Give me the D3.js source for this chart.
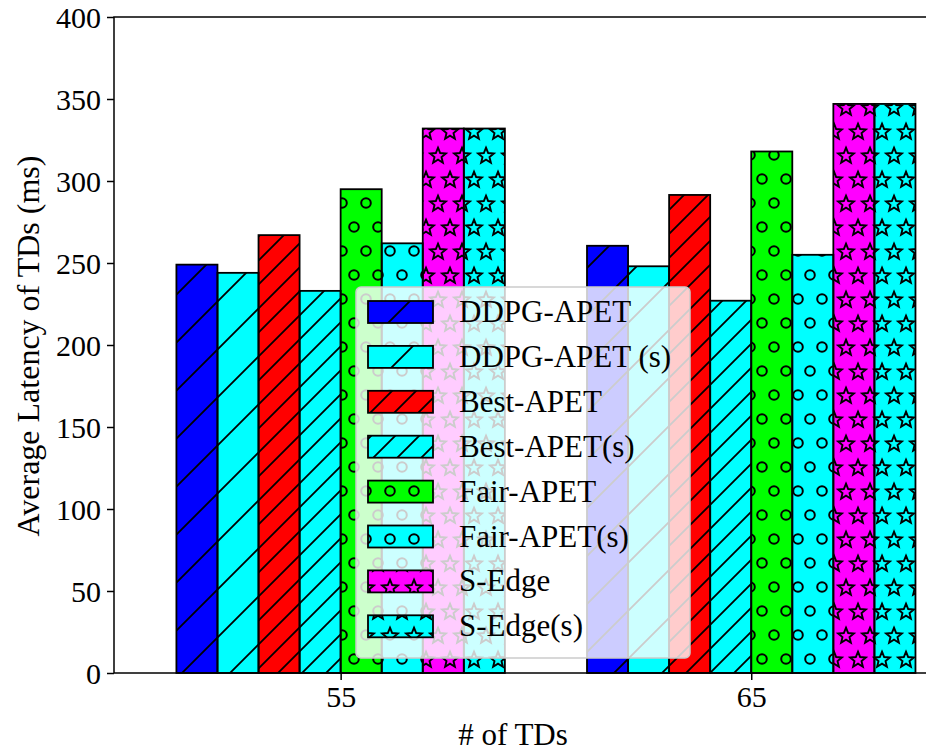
<!DOCTYPE html>
<html>
<head>
<meta charset="utf-8">
<script src="https://cdn.jsdelivr.net/npm/d3@7"></script>
<style>
  body { margin: 0; background: white; }
  svg { display: block; font-family: "Liberation Serif", "Times New Roman", serif; }
</style>
</head>
<body>
<div id="chart"></div>
<script>
//data for the chart
var categories = ["55", "65"];
var seriesNames = ["DDPG-APET", "DDPG-APET (s)", "Best-APET", "Best-APET(s)", "Fair-APET", "Fair-APET(s)", "S-Edge", "S-Edge(s)"];
var ddpgApet = [249, 260.5];
var ddpgApetS = [244, 248];
var bestApet = [267, 291.5];
var bestApetS = [233, 227];
var fairApet = [295, 318];
var fairApetS = [262, 255];
var sEdge = [332, 347];
var sEdgeS = [332, 347];
var yTicks = [0, 50, 100, 150, 200, 250, 300, 350, 400];

var allSeries = [ddpgApet, ddpgApetS, bestApet, bestApetS, fairApet, fairApetS, sEdge, sEdgeS];
var colors = ["#0000ff", "#00ffff", "#ff0000", "#00ffff", "#00ff00", "#00ffff", "#ff00ff", "#00ffff"];
var hatches = ["hatch1", "hatch1", "hatch2", "hatch2", "dots", "dots", "stars", "stars"];

//size of the picture and the plot area (window.top is taken, so own names)
var width = 926, height = 753;
var plotLeft = 114, plotRight = 936, plotTop = 17, plotBottom = 673;
var barWidth = 0.1;

var svg = d3.select("#chart").append("svg")
    .attr("width", width)
    .attr("height", height);

//scales
var x = d3.scaleLinear().domain([-0.552, 1.45]).range([plotLeft, plotRight]);
var y = d3.scaleLinear().domain([0, 400]).range([plotBottom, plotTop]);

//hatch patterns, in page coordinates like matplotlib does
var defs = svg.append("defs");

var p1 = defs.append("pattern").attr("id", "hatch1")
    .attr("patternUnits", "userSpaceOnUse").attr("width", 48).attr("height", 48)
    .attr("x", 39);
p1.append("path").attr("d", "M-12,12L12,-12M0,48L48,0M36,60L60,36")
    .attr("stroke", "black").attr("stroke-width", 1.8);

var p2 = defs.append("pattern").attr("id", "hatch2")
    .attr("patternUnits", "userSpaceOnUse").attr("width", 24).attr("height", 24)
    .attr("x", 15);
p2.append("path").attr("d", "M-6,6L6,-6M0,24L24,0M18,30L30,18")
    .attr("stroke", "black").attr("stroke-width", 1.8);

var dotSpots = [[0, 0], [24, 0], [0, 48], [24, 48], [12, 24]];
var p3 = defs.append("pattern").attr("id", "dots")
    .attr("patternUnits", "userSpaceOnUse").attr("width", 24).attr("height", 48)
    .attr("x", 6).attr("y", 11);
p3.selectAll("circle").data(dotSpots).enter().append("circle")
    .attr("cx", function (d) { return d[0]; })
    .attr("cy", function (d) { return d[1]; })
    .attr("r", 4.8)
    .attr("fill", "none").attr("stroke", "black").attr("stroke-width", 2);

//five pointed star outline
function starPath(cx, cy, ro, ri) {
    var pts = [];
    for (var k = 0; k < 10; k++) {
        var r = k % 2 == 0 ? ro : ri;
        var a = -Math.PI / 2 + k * Math.PI / 5;
        pts.push([cx + r * Math.cos(a), cy + r * Math.sin(a)]);
    }
    return "M" + pts.join("L") + "Z";
}
var p4 = defs.append("pattern").attr("id", "stars")
    .attr("patternUnits", "userSpaceOnUse").attr("width", 24).attr("height", 48)
    .attr("x", 6).attr("y", 11);
p4.selectAll("path").data(dotSpots).enter().append("path")
    .attr("d", function (d) { return starPath(d[0], d[1] + 1, 8.3, 3.7); })
    .attr("fill", "none").attr("stroke", "black").attr("stroke-width", 1.9)
    .attr("stroke-linejoin", "miter");

//bars
var bars = [];
allSeries.forEach(function (vals, i) {
    vals.forEach(function (v, j) {
        bars.push({ s: i, c: j, v: v });
    });
});

var barG = svg.append("g");
barG.selectAll("rect.fill").data(bars).enter().append("rect")
    .attr("class", "fill")
    .attr("x", function (d) { return x(d.c + (d.s - 4) * barWidth); })
    .attr("y", function (d) { return y(d.v); })
    .attr("width", function (d) { return x(barWidth) - x(0); })
    .attr("height", function (d) { return y(0) - y(d.v); })
    .attr("fill", function (d) { return colors[d.s]; });

barG.selectAll("rect.hatch").data(bars).enter().append("rect")
    .attr("class", "hatch")
    .attr("x", function (d) { return x(d.c + (d.s - 4) * barWidth); })
    .attr("y", function (d) { return y(d.v); })
    .attr("width", function (d) { return x(barWidth) - x(0); })
    .attr("height", function (d) { return y(0) - y(d.v); })
    .attr("fill", function (d) { return "url(#" + hatches[d.s] + ")"; })
    .attr("stroke", "black")
    .attr("stroke-width", 1.8);

//axes
var yAxis = d3.axisLeft(y).tickValues(yTicks).tickSize(7).tickPadding(6);
var xAxis = d3.axisBottom(x).tickValues([0, 1])
    .tickFormat(function (d) { return categories[d]; })
    .tickSize(7).tickPadding(6);

var gy = svg.append("g").attr("transform", "translate(" + plotLeft + ",0)").call(yAxis);
var gx = svg.append("g").attr("transform", "translate(0," + plotBottom + ")").call(xAxis);
[gy, gx].forEach(function (g) {
    g.select(".domain").remove();
    g.selectAll("line").attr("stroke", "black").attr("stroke-width", 1.5);
    g.selectAll("text").attr("font-size", 30).attr("fill", "black")
        .attr("font-family", "Liberation Serif, Times New Roman, serif");
});
gy.selectAll("text").attr("dy", "0.34em");

//frame around the plot
svg.append("rect")
    .attr("x", plotLeft).attr("y", plotTop)
    .attr("width", plotRight - plotLeft).attr("height", plotBottom - plotTop)
    .attr("fill", "none").attr("stroke", "black").attr("stroke-width", 1.5);

//axis titles
svg.append("text")
    .attr("x", (plotLeft + plotRight) / 2 - 12)
    .attr("y", 745)
    .attr("text-anchor", "middle")
    .attr("font-size", 31)
    .text("# of TDs");

svg.append("text")
    .attr("transform", "translate(39," + ((plotTop + plotBottom) / 2 + 1) + ") rotate(-90)")
    .attr("text-anchor", "middle")
    .attr("font-size", 32)
    .text("Average Latency of TDs (ms)");

//legend
var leg = svg.append("g");
leg.append("rect")
    .attr("x", 356).attr("y", 287)
    .attr("width", 334).attr("height", 371)
    .attr("rx", 5)
    .attr("fill", "white").attr("fill-opacity", 0.8)
    .attr("stroke", "#cccccc").attr("stroke-width", 1.5);

var rows = leg.selectAll("g.row").data(seriesNames).enter().append("g")
    .attr("class", "row");
rows.append("rect")
    .attr("x", 368)
    .attr("y", function (d, i) { return 301 + i * 44.9; })
    .attr("width", 65).attr("height", 22)
    .attr("fill", function (d, i) { return colors[i]; });
rows.append("rect")
    .attr("x", 368)
    .attr("y", function (d, i) { return 301 + i * 44.9; })
    .attr("width", 65).attr("height", 22)
    .attr("fill", function (d, i) { return "url(#" + hatches[i] + ")"; })
    .attr("stroke", "black").attr("stroke-width", 1.8);
rows.append("text")
    .attr("x", 459)
    .attr("y", function (d, i) { return 322 + i * 44.9; })
    .attr("font-size", 31)
    .text(function (d) { return d; });
</script>
</body>
</html>
